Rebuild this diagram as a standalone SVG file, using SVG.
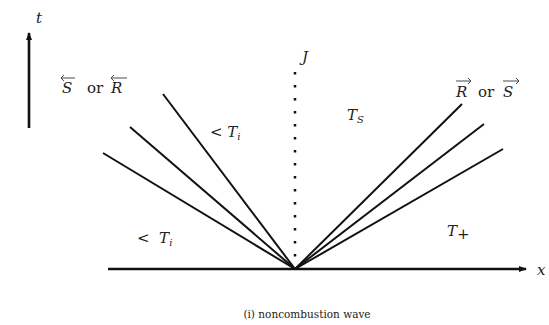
<svg xmlns="http://www.w3.org/2000/svg" width="549" height="325" viewBox="0 0 549 325">
<style>
text{font-family:'DejaVu Serif','Liberation Serif',serif;fill:#222}
.m{font-style:italic;font-size:15px}
.r{font-style:normal;font-size:15px}
.s{font-style:italic;font-size:10px}
.cap{font-size:10.5px}
.w{stroke:#111;stroke-width:2;fill:none}
.ax{stroke:#111;stroke-width:2.6;fill:none}
.oa{stroke:#333;stroke-width:0.9;fill:none}
</style>
<defs>
<marker id="ah" markerWidth="8" markerHeight="6" refX="7" refY="3" orient="auto" markerUnits="userSpaceOnUse">
<path d="M0,0 L8,3 L0,6 Z" fill="#111"/>
</marker>
</defs>
<g id="axes">
<line class="ax" x1="29" y1="128" x2="29" y2="33" marker-end="url(#ah)"/>
<line class="ax" x1="108" y1="269" x2="526" y2="269" marker-end="url(#ah)"/>
<text class="m" x="36" y="23">t</text>
<text class="m" x="537" y="275">x</text>
</g>
<g id="connectors">
<line class="w" x1="295" y1="269" x2="103" y2="153"/>
<line class="w" x1="295" y1="269" x2="130" y2="127"/>
<line class="w" x1="295" y1="269" x2="163" y2="94"/>
<line class="w" x1="295" y1="269" x2="462" y2="104"/>
<line class="w" x1="295" y1="269" x2="484" y2="124"/>
<line class="w" x1="295" y1="269" x2="503" y2="149"/>
<line x1="295" y1="72" x2="295" y2="266" stroke="#111" stroke-width="2.5" stroke-dasharray="2.5 10.5"/>
</g>
<g id="labels">
<text class="m" x="302" y="62">J</text>
<text class="m" x="347" y="120">T<tspan class="s" dy="3">S</tspan></text>
<text class="r" x="210" y="137">&lt; <tspan class="m">T</tspan><tspan class="s" dy="3">i</tspan></text>
<text class="r" x="137" y="243" xml:space="preserve">&lt;  <tspan class="m">T</tspan><tspan class="s" dy="3">i</tspan></text>
<text class="m" x="447" y="236">T<tspan class="r" font-size="11" dy="3">+</tspan></text>
<text class="m" x="62" y="93">S</text>
<text class="r" x="87" y="93">or</text>
<text class="m" x="111" y="93">R</text>
<path class="oa" d="M61,78 H75 M61,78 L64,75 M61,78 L64,81"/>
<path class="oa" d="M111,78 H127 M111,78 L114,75 M111,78 L114,81"/>
<text class="m" x="456" y="97">R</text>
<text class="r" x="478" y="97">or</text>
<text class="m" x="503" y="97">S</text>
<path class="oa" d="M456,81 H471 M471,81 L468,78 M471,81 L468,84"/>
<path class="oa" d="M503,81 H519 M519,81 L516,78 M519,81 L516,84"/>
<text class="cap" x="307" y="318" text-anchor="middle">(i) noncombustion wave</text>
</g>
</svg>
